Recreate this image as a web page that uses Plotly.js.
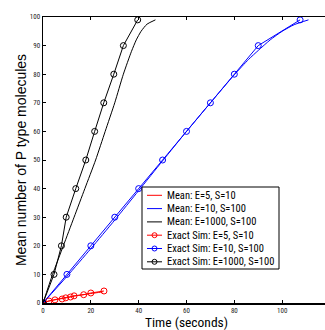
<!DOCTYPE html>
<html>
<head>
<meta charset="utf-8">
<script src="https://cdn.plot.ly/plotly-3.0.1.min.js"></script>
<style>
html,body{margin:0;padding:0;overflow:hidden;background:#fff;}
#chart{width:335px;height:330px;}
</style>
</head>
<body>
<div id="chart"></div>
<script>
// Mean (deterministic) curves
var meanRedX = [0, 2, 5, 10, 15, 20, 25];
var meanRedY = [0, 0.6, 1.2, 2.0, 2.7, 3.3, 3.9];
var meanBlueX = [0, 10, 20, 30, 40, 50, 60, 70, 80, 86, 90, 95, 100, 105, 111];
var meanBlueY = [0, 9.3, 19, 29, 39.3, 49.7, 60, 70, 79.8, 85.2, 88.3, 92, 95, 97.3, 99];
var meanBlackX = [0, 4, 8.5, 13, 17.5, 22, 26, 30, 33.6, 37, 39, 41, 43.5, 47];
var meanBlackY = [0, 10, 20, 30, 40, 50, 60, 70, 80, 88, 92, 95, 97.5, 99];
// Exact simulation results
var simRedX = [0, 2.5, 5, 8, 9.5, 11.5, 13, 17, 20, 25.5];
var simRedY = [0, 0.7, 1.1, 1.4, 1.8, 2.1, 2.5, 2.9, 3.5, 4.2];
var simBlueX = [0, 10, 20, 30, 40, 50, 60, 70, 80, 90, 107.5];
var simBlueY = [0, 10, 20, 30, 40, 50, 60, 70, 80, 90, 99];
var simBlackX = [0, 4.6, 7.7, 9.7, 13.7, 17.9, 21.6, 25.4, 29.6, 33.6, 39.6];
var simBlackY = [0, 10, 20, 30, 40, 50, 60, 70, 80, 90, 99];
var names = ['Mean: E=5, S=10', 'Mean: E=10, S=100', 'Mean: E=1000, S=100',
             'Exact Sim: E=5, S=10', 'Exact Sim: E=10, S=100', 'Exact Sim: E=1000, S=100'];
var colors = ['#ff0000', '#0000ff', '#000000', '#ff0000', '#0000ff', '#000000'];
var hasMarker = [false, false, false, true, true, true];
var xTicks = [0, 20, 40, 60, 80, 100, 120];
var yTicks = [0, 10, 20, 30, 40, 50, 60, 70, 80, 90, 100];

function line(x, y, name, color) {
  return {x: x, y: y, name: name, type: 'scatter', mode: 'lines', showlegend: false,
          line: {color: color, width: 1, shape: 'spline', smoothing: 0.6}};
}
function sim(x, y, name, color) {
  return {x: x, y: y, name: name, type: 'scatter', mode: 'lines+markers', showlegend: false,
          line: {color: color, width: 1},
          marker: {symbol: 'circle-open', size: 6, color: color, line: {width: 1, color: color}}};
}
var data = [
  line(meanRedX, meanRedY, names[0], colors[0]),
  line(meanBlueX, meanBlueY, names[1], colors[1]),
  line(meanBlackX, meanBlackY, names[2], colors[2]),
  sim(simRedX, simRedY, names[3], colors[3]),
  sim(simBlueX, simBlueY, names[4], colors[4]),
  sim(simBlackX, simBlackY, names[5], colors[5])
];

var condensed = 'Roboto Condensed, Liberation Sans, Arial, sans-serif';
// Compact legend (box, swatches, labels) in paper coordinates
var plotL = 43, plotW = 287, plotB = 303, plotH = 286;
function px(X) { return (X - plotL) / plotW; }
function py(Y) { return (plotB - Y) / plotH; }
var shapes = [{type: 'rect', xref: 'paper', yref: 'paper',
  x0: px(142), x1: px(279), y0: py(269), y1: py(187),
  fillcolor: '#fff', line: {color: '#000', width: 1}, layer: 'above'}];
var annotations = [];
for (var i = 0; i < names.length; i++) {
  var Y = 195.3 + 13.3 * i;
  shapes.push({type: 'line', xref: 'paper', yref: 'paper', x0: px(147), x1: px(162), y0: py(Y), y1: py(Y),
    line: {color: colors[i], width: 1}, layer: 'above'});
  if (hasMarker[i]) {
    shapes.push({type: 'circle', xref: 'paper', yref: 'paper', xsizemode: 'pixel', ysizemode: 'pixel',
      xanchor: px(154.5), yanchor: py(Y), x0: -2.5, x1: 2.5, y0: -2.5, y1: 2.5,
      line: {color: colors[i], width: 1}, fillcolor: 'rgba(0,0,0,0)', layer: 'above'});
  }
  annotations.push({xref: 'paper', yref: 'paper', x: px(165), y: py(Y), xanchor: 'left', yanchor: 'middle',
    text: names[i], showarrow: false,
    font: {family: condensed, size: 10.5, color: '#000'}});
}

var tickFont = {family: condensed, size: 7, color: '#222'};
var layout = {
  width: 335, height: 330,
  margin: {l: 43, r: 5, t: 17, b: 27, pad: 0},
  paper_bgcolor: '#fff', plot_bgcolor: '#fff',
  showlegend: false,
  shapes: shapes,
  annotations: annotations,
  xaxis: {
    range: [0, 120], tickvals: xTicks, ticktext: xTicks.map(String),
    ticks: 'inside', ticklen: 3, tickcolor: '#000', tickwidth: 1,
    showline: true, linecolor: '#000', linewidth: 1.5, mirror: 'ticks',
    showgrid: false, zeroline: false, tickfont: tickFont,
    title: {text: 'Time (seconds)', font: {family: condensed, size: 13.5, color: '#000'}, standoff: 2}
  },
  yaxis: {
    range: [0, 100], tickvals: yTicks, ticktext: yTicks.map(String),
    ticks: 'inside', ticklen: 3, tickcolor: '#000', tickwidth: 1,
    showline: true, linecolor: '#000', linewidth: 1.5, mirror: 'ticks',
    showgrid: false, zeroline: false, tickfont: tickFont,
    title: {text: 'Mean number of P type molecules', font: {family: 'Liberation Sans, Arial, sans-serif', size: 14, color: '#000'}, standoff: 0}
  }
};
Plotly.newPlot('chart', data, layout, {displayModeBar: false, staticPlot: true});
</script>
</body>
</html>
